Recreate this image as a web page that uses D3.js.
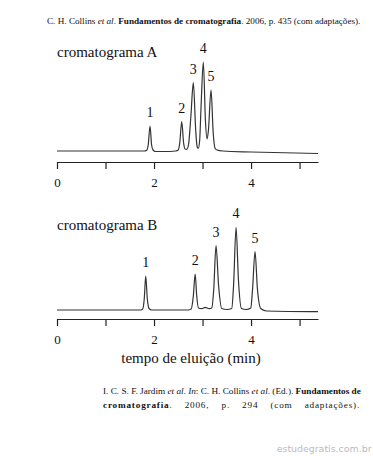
<!DOCTYPE html>
<html>
<head>
<meta charset="utf-8">
<script src="https://cdn.jsdelivr.net/npm/d3@7"></script>
<style>
  body { margin: 0; background: #fff; }
  svg { display: block; }
</style>
</head>
<body>
<div id="chart"></div>
<script>
// x axis
var tickValues = [0, 1, 2, 3, 4, 5];
var tickLabels = ["0", "", "2", "", "4", ""];
var peakNames = ["1", "2", "3", "4", "5"];

// cromatograma A (tempo em min, sinal)
var timeA = [0, 1.0, 1.80, 1.85, 1.88, 1.918, 1.95, 1.98, 2.03, 2.2, 2.45, 2.50, 2.53, 2.571, 2.61, 2.64, 2.674,
    2.71, 2.76, 2.810, 2.86, 2.89, 2.913, 2.94, 2.97, 3.016, 3.06, 3.093, 3.12, 3.175, 3.22, 3.258, 3.30, 3.42, 4.0, 5.38];
var signalA = [0, 0, 0, 0.8, 6, 25, 6, 1, -0.5, -0.5, 0, 1, 8, 29.3, 8, 2, 1.7,
    6, 35, 68.3, 20, 4, 2.7, 10, 45, 89, 30, 12, 20, 61, 18, 2.7, 1, 0, -1, -2.5];
var peakTimeA = [1.918, 2.571, 2.810, 3.016, 3.175];
var peakSignalA = [25, 29.3, 68.3, 89, 61];

// cromatograma B
var timeB = [0, 1.2, 1.72, 1.767, 1.80, 1.829, 1.86, 1.897, 1.95, 2.70, 2.766, 2.81, 2.848, 2.88, 2.916, 2.987, 3.055,
    3.137, 3.19, 3.23, 3.278, 3.33, 3.396, 3.50, 3.602, 3.64, 3.691, 3.74, 3.802, 3.90, 3.994, 4.03, 4.082, 4.13, 4.200, 4.324, 5.38];
var signalB = [0, 0, 0, 1, 12, 34, 12, 1.5, 0, 0, 1, 14, 36, 14, 2, 1.3, 2.7,
    1.3, 2, 20, 64.3, 25, 1.5, 0.5, 1.5, 25, 82.7, 30, 1.5, 0.5, 2, 20, 58.3, 22, 1.5, -1, -1.7];
var peakTimeB = [1.829, 2.848, 3.278, 3.691, 4.082];
var peakSignalB = [34, 36, 64.3, 82.7, 58.3];

var width = 373, height = 456;
var serif = "'Liberation Serif', 'Times New Roman', serif";

var svg = d3.select("#chart").append("svg")
    .attr("width", width)
    .attr("height", height)
    .style("background", "#fff");

var x = d3.scaleLinear().domain([0, 5.38]).range([57, 318]);

// shrink/grow the font so the line has the wanted width
function fitWidth(sel, size, target) {
    var w = sel.node().getComputedTextLength();
    sel.attr("font-size", size * target / w);
}

// top citation
var cite = svg.append("text")
    .attr("x", 47).attr("y", 24)
    .attr("font-family", serif).attr("font-size", 9.5)
    .attr("fill", "#111");
cite.append("tspan").text("C. H. Collins ");
cite.append("tspan").attr("font-style", "italic").text("et al");
cite.append("tspan").text(". ");
cite.append("tspan").attr("font-weight", "bold").text("Fundamentos de cromatografia");
cite.append("tspan").text(". 2006, p. 435 (com adaptações).");
fitWidth(cite, 9.5, 314);

function drawPanel(time, signal, peakTime, peakSignal, base, axisY, title, titleY) {
    var y = d3.scaleLinear().domain([0, 100]).range([base, base - 100]);
    var pts = time.map(function (t, i) { return [t, signal[i]]; });

    var line = d3.line()
        .x(function (d) { return x(d[0]); })
        .y(function (d) { return y(d[1]); })
        .curve(d3.curveMonotoneX);

    svg.append("path")
        .datum(pts)
        .attr("d", line)
        .attr("fill", "none")
        .attr("stroke", "#333")
        .attr("stroke-width", 1.2)
        .attr("stroke-linejoin", "round");

    svg.append("g")
        .selectAll("text")
        .data(peakNames)
        .join("text")
        .attr("x", function (d, i) { return x(peakTime[i]); })
        .attr("y", function (d, i) { return y(peakSignal[i]) - 9; })
        .attr("text-anchor", "middle")
        .attr("font-family", serif)
        .attr("font-size", 14)
        .attr("fill", "#111")
        .text(function (d) { return d; });

    var axis = svg.append("g")
        .attr("transform", "translate(0," + axisY + ")")
        .call(d3.axisBottom(x)
            .tickValues(tickValues)
            .tickSize(7)
            .tickSizeOuter(0)
            .tickPadding(9)
            .tickFormat(function (d, i) { return tickLabels[i]; }));
    axis.attr("font-family", serif).attr("font-size", 13);
    axis.selectAll("path, line").attr("stroke", "#222").attr("stroke-width", 1.2);
    axis.selectAll("text").attr("fill", "#111");

    svg.append("text")
        .attr("x", 57).attr("y", titleY)
        .attr("font-family", serif).attr("font-size", 15)
        .attr("fill", "#111")
        .text(title);
}

drawPanel(timeA, signalA, peakTimeA, peakSignalA, 151, 162, "cromatograma A", 56.5);
drawPanel(timeB, signalB, peakTimeB, peakSignalB, 310, 319, "cromatograma B", 229.5);

svg.append("text")
    .attr("x", 191).attr("y", 363)
    .attr("text-anchor", "middle")
    .attr("font-family", serif).attr("font-size", 15)
    .attr("fill", "#111")
    .text("tempo de eluição (min)");

// bottom citation
var c1 = svg.append("text")
    .attr("x", 103).attr("y", 394)
    .attr("font-family", serif).attr("font-size", 9.5)
    .attr("fill", "#111");
c1.append("tspan").text("I. C. S. F. Jardim ");
c1.append("tspan").attr("font-style", "italic").text("et al");
c1.append("tspan").text(". ");
c1.append("tspan").attr("font-style", "italic").text("In");
c1.append("tspan").text(": C. H. Collins ");
c1.append("tspan").attr("font-style", "italic").text("et al");
c1.append("tspan").text(". (Ed.). ");
c1.append("tspan").attr("font-weight", "bold").text("Fundamentos de");
fitWidth(c1, 9.5, 258);

var c2 = svg.append("text")
    .attr("x", 103).attr("y", 407.5)
    .attr("font-family", serif).attr("font-size", c1.attr("font-size"))
    .attr("fill", "#111")
    .attr("letter-spacing", 0.8);
c2.append("tspan").attr("font-weight", "bold").text("cromatografia");
c2.append("tspan").text(". 2006, p. 294 (com adaptações).");
var natural = c2.node().getComputedTextLength();
c2.attr("word-spacing", Math.max(0, (257 - natural) / 5));

var mark = svg.append("text")
    .attr("x", 371.5).attr("y", 452)
    .attr("text-anchor", "end")
    .attr("font-family", "'DejaVu Sans', sans-serif")
    .attr("font-size", 9)
    .attr("fill", "#bbb")
    .text("estudegratis.com.br");
fitWidth(mark, 9, 95);
</script>
</body>
</html>
